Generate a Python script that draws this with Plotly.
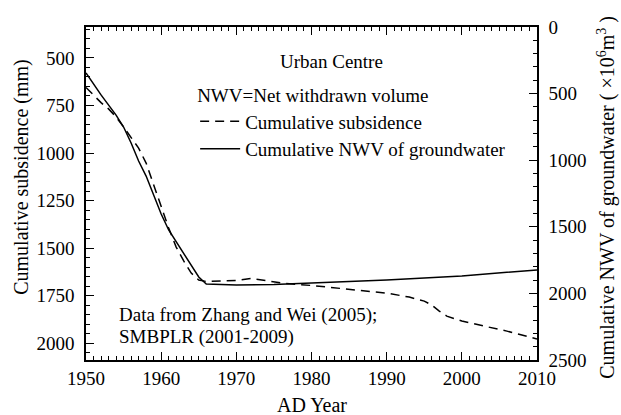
import plotly.graph_objects as go

# Cumulative land subsidence, Urban Centre (mm)
sub_years = [1950, 1951, 1952, 1953, 1954, 1955, 1956, 1957, 1958, 1959, 1960,
             1961, 1962, 1963, 1964, 1965, 1966, 1968, 1970, 1972, 1974, 1976,
             1980, 1985, 1988, 1990, 1993, 1995, 1996, 1997, 1998, 2000, 2003,
             2006, 2009, 2010]
subsidence = [655, 695, 735, 768, 810, 863, 916, 974, 1053, 1168, 1284,
              1395, 1495, 1568, 1632, 1668, 1676, 1674, 1670, 1660, 1672, 1684,
              1697, 1716, 1726, 1737, 1758, 1779, 1800, 1832, 1858, 1884, 1911,
              1937, 1968, 1979]

# Cumulative net withdrawn volume of groundwater (10^6 m^3)
nwv_years = [1950, 1952, 1954, 1955, 1956, 1957, 1958, 1959, 1960, 1961, 1962,
             1963, 1964, 1965, 1966, 1970, 1975, 1980, 1990, 2000, 2010]
nwv = [345, 510, 661, 751, 871, 1006, 1119, 1261, 1404, 1524, 1614,
       1704, 1787, 1877, 1929, 1937, 1934, 1922, 1899, 1869, 1824]

FONT = "Liberation Serif, Times New Roman, serif"
FS = 19
FS_TITLE = 20

fig = go.Figure()
fig.add_trace(go.Scatter(
    x=sub_years, y=subsidence, mode="lines", name="Cumulative subsidence",
    line=dict(color="black", width=1.5, dash="9px,6px"),
    xaxis="x", yaxis="y"))
fig.add_trace(go.Scatter(
    x=nwv_years, y=nwv, mode="lines", name="Cumulative NWV of groundwater",
    line=dict(color="black", width=1.5),
    xaxis="x2", yaxis="y2"))

axis_common = dict(
    showline=True, linecolor="black", linewidth=1.6,
    ticks="inside", ticklen=8, tickwidth=1.3, tickcolor="black",
    showgrid=False, zeroline=False,
    tickfont=dict(family=FONT, size=FS, color="black"),
)
minor_style = dict(ticklen=4, tickwidth=1, tickcolor="black", ticks="inside")

fig.update_layout(
    width=621, height=415,
    margin=dict(l=86, r=84, t=27, b=55),
    paper_bgcolor="white", plot_bgcolor="white",
    font=dict(family=FONT, size=FS, color="black"),
    xaxis=dict(range=[1950, 2010], dtick=10, tick0=1950,
               minor=dict(dtick=1, **minor_style), **axis_common),
    xaxis2=dict(range=[1950, 2010], dtick=10, tick0=1950, overlaying="x",
                side="top", matches="x", showticklabels=False,
                minor=dict(dtick=1, **minor_style), **axis_common),
    yaxis=dict(range=[2089, 337], dtick=250, tick0=0, ticklabelstandoff=6,
               minor=dict(dtick=50, **minor_style), **axis_common),
    yaxis2=dict(range=[2500, 0], dtick=500, tick0=0, overlaying="y", side="right",
                anchor="x2", ticklabelstandoff=6,
                minor=dict(dtick=100, **minor_style), **axis_common),
    showlegend=True,
    legend=dict(
        x=0.242, y=0.848, xanchor="left", yanchor="top",
        bgcolor="rgba(0,0,0,0)", borderwidth=0,
        font=dict(family=FONT, size=FS, color="black"),
        title=dict(text="NWV=Net withdrawn volume",
                   font=dict(family=FONT, size=FS, color="black")),
        tracegroupgap=0, itemwidth=40,
    ),
)

annotations = [
    dict(text="Urban Centre", x=0.545, y=0.895, xanchor="center", yanchor="middle",
         size=FS),
    dict(text="Data from Zhang and Wei (2005);", x=0.069, y=0.135,
         xanchor="left", yanchor="middle", size=FS),
    dict(text="SMBPLR (2001-2009)", x=0.069, y=0.069, xanchor="left",
         yanchor="middle", size=FS),
    dict(text="AD Year", x=0.5, y=-0.135, xanchor="center", yanchor="middle",
         size=FS_TITLE),
    dict(text="Cumulative subsidence (mm)", x=-0.142, y=0.55, textangle=-90,
         xanchor="center", yanchor="middle", size=FS_TITLE),
    dict(text="Cumulative NWV of groundwater ( \u00d710<sup>6</sup>m<sup>3</sup> )",
         x=1.155, y=0.49, textangle=-90, xanchor="center", yanchor="middle",
         size=FS_TITLE),
]
for a in annotations:
    size = a.pop("size")
    fig.add_annotation(xref="paper", yref="paper", showarrow=False,
                       font=dict(family=FONT, size=size, color="black"), **a)

fig.write_html("out.html")
